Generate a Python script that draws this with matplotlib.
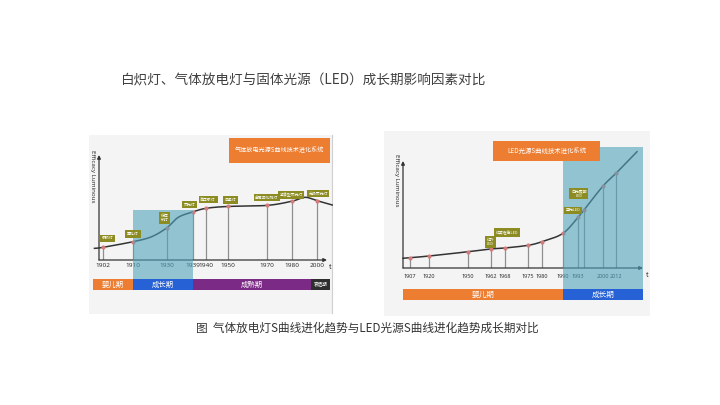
import numpy as np
import matplotlib
matplotlib.use("Agg")
import matplotlib.pyplot as plt
from matplotlib.patches import Rectangle

plt.rcParams['font.family'] = ['Noto Sans CJK SC', 'DejaVu Sans']

# ---------------- data ----------------
title = "白炽灯、气体放电灯与固体光源（LED）成长期影响因素对比"
caption = "图  气体放电灯S曲线进化趋势与LED光源S曲线进化趋势成长期对比"

# Left chart: gas discharge lamps
gas_years = [1902, 1910, 1930, 1939, 1940, 1950, 1970, 1980, 2000]
gas_values = [12, 17.4, 30.8, 45.7, 49.2, 51, 52, 56, 56.5]
gas_tick_labels = ["1902", "1910", "1930", "1939", "1940", "1950", "1970", "1980", "2000"]
gas_curve_years = [1899.5, 1902, 1910, 1921, 1930, 1934, 1939, 1940, 1950, 1970, 1980, 1990.4, 2000, 2012]
gas_curve_values = [11.1, 12, 17.4, 22.2, 30.8, 40.7, 45.7, 49.2, 51, 52, 56, 59.7, 56.5, 52.4]
gas_point_labels = ["汞弧灯", "霓虹灯", "低压\n钠灯", "荧光灯", "高压汞灯", "卤素灯", "金属卤化物灯", "紧凑型荧光灯", "无极荧光灯"]
gas_growth = (1910, 1939)
gas_phases = ["婴儿期", "成长期", "成熟期", "衰退期"]
gas_phase_bounds = [1899.1, 1910, 1939, 1995.2, 2010.4]
gas_title = "气体放电光源S曲线技术进化系统"

# Right chart: LED
led_years = [1907, 1920, 1950, 1962, 1968, 1975, 1980, 1990, 1993, 1996, 2000, 2012]
led_values = [9.6, 11.2, 15.2, 17.8, 18.7, 21.2, 24.6, 32.4, 47.4, 54.2, 76.6, 88.5]
led_tick_labels = ["1907", "1920", "1950", "1962", "1968", "1975", "1980", "1990", "1993", "", "2000", "2012"]
led_curve_years = [1903] + led_years + [2020]
led_curve_values = [9.1] + led_values + [108.7]
led_label_years = [1962, 1968, 1993, 1996]
led_point_labels = ["红外\nLED", "红黄橙色LED", "蓝光LED", "白光照明\nLED"]
led_growth = (1990, 2022.3)
led_phases = ["婴儿期", "成长期"]
led_phase_bounds = [1903, 1990, 2022.3]
led_title = "LED光源S曲线技术进化系统"

# -------------- layout / style --------------
W, H = 720, 405
fig = plt.figure(figsize=(W / 100, H / 100), dpi=100)
fig.patch.set_facecolor('white')

def fr(x0, y0, x1, y1):
    """pixel box (top-left origin) -> figure fraction rect"""
    return [x0 / W, 1 - y1 / H, (x1 - x0) / W, (y1 - y0) / H]

def fig_rect(x0, y0, x1, y1, color, z=0, **kw):
    r = fr(x0, y0, x1, y1)
    fig.patches.append(Rectangle((r[0], r[1]), r[2], r[3], transform=fig.transFigure,
                                 facecolor=color, edgecolor='none', zorder=z, **kw))

PANEL = '#f4f4f4'
ORANGE = '#ed7d31'
BLUE = '#2761d6'
PURPLE = '#7b2a85'
DARK = '#2e2e2e'
OLIVE = '#8c8c23'
TEAL = '#4fa3bb'
POINT = '#d47b7b'
AX = '#333333'

# panel backgrounds (behind axes)
fig_rect(89, 135, 332, 314, PANEL, z=-10)
fig_rect(384, 131, 650, 316, PANEL, z=-10)
fig.lines.append(plt.Line2D([332 / W, 332 / W], [1 - 135 / H, 1 - 313 / H], transform=fig.transFigure,
                            color='#cfcfcf', lw=0.8, zorder=-9))

# texts
fig.text(120 / W, 1 - 80 / H, title, fontsize=9.8, color='#404040', va='center', ha='left')
fig.text(196 / W, 1 - 328 / H, caption, fontsize=8.4, color='#333333', va='center', ha='left')


def cr_smooth(x, y, n=16):
    x = np.asarray(x, float); y = np.asarray(y, float)
    P = np.column_stack([x, y])
    P = np.vstack([2 * P[0] - P[1], P, 2 * P[-1] - P[-2]])
    out = []
    t = np.linspace(0, 1, n, endpoint=False)[:, None]
    for i in range(1, len(P) - 2):
        p0, p1, p2, p3 = P[i - 1], P[i], P[i + 1], P[i + 2]
        seg = 0.5 * ((2 * p1) + (-p0 + p2) * t + (2 * p0 - 5 * p1 + 4 * p2 - p3) * t ** 2
                     + (-p0 + 3 * p1 - 3 * p2 + p3) * t ** 3)
        out.append(seg)
    out.append(P[-2][None, :])
    out = np.vstack(out)
    return out[:, 0], out[:, 1]


def make_chart(rect_px, knots_year, knots_px, years, values, tick_labels, cyears, cvalues,
               label_years, label_texts, label_offsets, growth, phase_bounds, phases, phase_colors,
               phase_sizes, teal_px, bar_px, tick_pad, tick_size, ylabel_px):
    x0, y_top, x1, y_base = rect_px
    ax = fig.add_axes(fr(x0, y_top, x1, y_base))
    ky = np.asarray(knots_year, float); kp = np.asarray(knots_px, float)
    fwd = lambda v: np.interp(v, ky, kp)
    inv = lambda v: np.interp(v, kp, ky)
    ax.set_xscale('function', functions=(fwd, inv))
    ax.set_xlim(inv(x0), inv(x1))
    ax.set_ylim(0, 100)
    ax.patch.set_alpha(0)
    for s in ax.spines.values():
        s.set_visible(False)
    ax.set_yticks([])
    ax.set_xticks(years)
    ax.set_xticklabels(tick_labels, fontsize=tick_size, color='#222222', family=['Open Sans', 'DejaVu Sans'])
    ax.tick_params(axis='x', length=0, pad=tick_pad)

    # axes arrows
    ax.annotate('', xy=(1, 0), xytext=(0, 0), xycoords='axes fraction',
                arrowprops=dict(arrowstyle='-|>', color=AX, lw=0.9, mutation_scale=5, shrinkA=0, shrinkB=0))
    ax.annotate('', xy=(0, 1), xytext=(0, 0), xycoords='axes fraction',
                arrowprops=dict(arrowstyle='-|>', color=AX, lw=0.9, mutation_scale=5, shrinkA=0, shrinkB=0))
    ax.text(1.01, -0.065, 't', transform=ax.transAxes, fontsize=4.8, color='#222222', ha='left', va='center')

    # drop lines, curve, points
    ax.vlines(years, 0, values, color='#8f8f8f', lw=0.9, zorder=1)
    px, py = cr_smooth(fwd(np.asarray(cyears, float)), cvalues)
    ax.plot(inv(px), py, color='#333333', lw=1.1, zorder=2, clip_on=False)
    ax.scatter(years, values, s=9, color=POINT, zorder=3, linewidths=0, clip_on=False)

    h = y_base - y_top
    # growth (teal) shading
    ax.axvspan(growth[0], growth[1], ymin=(y_base - teal_px[1]) / h, ymax=(y_base - teal_px[0]) / h,
               color=TEAL, alpha=0.6, lw=0, zorder=4, clip_on=False)

    # labels
    for yr, txt, (dx, dy) in zip(label_years, label_texts, label_offsets):
        v = values[list(years).index(yr)]
        ax.annotate(txt, xy=(yr, v), xytext=(dx * 0.72, dy * 0.72), textcoords='offset points',
                    ha='center', va='center', fontsize=2.8, color='white', linespacing=1.0,
                    bbox=dict(boxstyle='square,pad=0.45', fc=OLIVE, ec='none'), zorder=6)

    # phase bar
    for i, name in enumerate(phases):
        a, b = phase_bounds[i], phase_bounds[i + 1]
        ax.axvspan(a, b, ymin=(y_base - bar_px[1]) / h, ymax=(y_base - bar_px[0]) / h,
                   color=phase_colors[i], lw=0, zorder=5, clip_on=False)
        mid = inv((fwd(a) + fwd(b)) / 2)
        ax.text(mid, (y_base - (bar_px[0] + bar_px[1]) / 2) / h, name, transform=ax.get_xaxis_transform(),
                ha='center', va='center', fontsize=phase_sizes[i], color='white', zorder=7)

    fig.text(ylabel_px[0] / W, 1 - ylabel_px[1] / H, 'Efficacy Luminous', rotation=-90, fontsize=4.5,
             color='#222222', ha='center', va='center', family=['Open Sans', 'DejaVu Sans'])
    return ax


# left chart
make_chart((99, 155, 327, 260),
           [1895, 1902, 1910, 1930, 1939, 1940, 1950, 1970, 1980, 2000, 2015],
           [80, 102.5, 133, 167, 192.5, 206, 228, 267, 292, 317, 336],
           gas_years, gas_values, gas_tick_labels, gas_curve_years, gas_curve_values,
           gas_years, gas_point_labels,
           [(5, 9), (0, 7.5), (-2.5, 9.5), (-3, 7.5), (2, 9), (2.5, 6.5), (0, 7.7), (-1, 6.5), (1, 7)],
           gas_growth, gas_phase_bounds, gas_phases, [ORANGE, BLUE, PURPLE, DARK],
           [5.3, 5.3, 5.3, 3.3], (210, 279), (279, 290), 2.2, 4.6, (92, 176))

# right chart
make_chart((403, 161, 643, 268),
           [1895] + [1903] + led_years + [2020, 2030],
           [387, 403, 410, 429, 468, 491, 505, 528, 542, 563, 578, 584, 603, 616, 637, 663],
           led_years, led_values, led_tick_labels, led_curve_years, led_curve_values,
           led_label_years, led_point_labels,
           [(-0.5, 7), (2.5, 15.5), (-5, 7), (-5, 16.5)],
           led_growth, led_phase_bounds, led_phases, [ORANGE, BLUE],
           [5.5, 5.5], (147, 289), (289, 300), 4.2, 4.0, (397, 180))

# title boxes (drawn on top)
for (x0, y0, x1, y1), txt, fs in [((229, 138, 330, 163), gas_title, 4.4),
                                  ((493, 141, 600, 161), led_title, 4.6)]:
    fig_rect(x0, y0, x1, y1, ORANGE, z=10)
    fig.text((x0 + x1) / 2 / W, 1 - (y0 + y1) / 2 / H, txt, fontsize=fs, color='white',
             ha='center', va='center', zorder=11)

fig.savefig('out.png', dpi=100, facecolor='white')
